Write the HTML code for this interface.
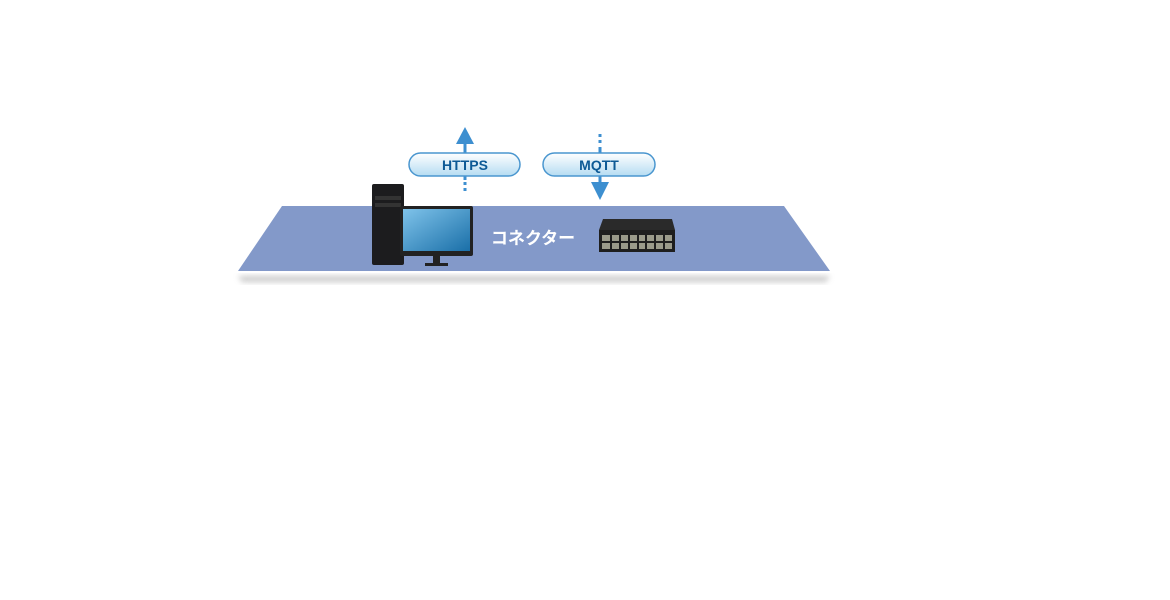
<!DOCTYPE html>
<html><head><meta charset="utf-8"><style>
html,body{margin:0;padding:0;background:#fff;width:1170px;height:600px;overflow:hidden;font-family:"Liberation Sans","Noto Sans CJK JP",sans-serif}
</style></head><body>
<svg width="1170" height="600" viewBox="0 0 1170 600" xmlns="http://www.w3.org/2000/svg">
<defs>
<linearGradient id="pill" x1="0" y1="0" x2="0" y2="1"><stop offset="0" stop-color="#ffffff"/><stop offset="1" stop-color="#b5dcf2"/></linearGradient>
<linearGradient id="scr" x1="0" y1="0" x2="1" y2="1"><stop offset="0" stop-color="#7fc3ea"/><stop offset="1" stop-color="#1a6fa8"/></linearGradient>
<filter id="sh" x="-10%" y="-50%" width="120%" height="200%"><feGaussianBlur stdDeviation="3"/></filter>
</defs>
<polygon points="238,276 830,276 826,282 242,282" fill="#999" opacity="0.5" filter="url(#sh)"/>
<polygon points="282,206 784,206 830,271 238,271" fill="#8399c9"/>
<line x1="465" y1="143" x2="465" y2="180" stroke="#3d8fd0" stroke-width="3"/>
<polygon points="456,144 465,127 474,144" fill="#3d8fd0"/>
<line x1="465" y1="182" x2="465" y2="194" stroke="#3d8fd0" stroke-width="3" stroke-dasharray="3,3"/>
<line x1="600" y1="134" x2="600" y2="145" stroke="#3d8fd0" stroke-width="3" stroke-dasharray="3,3"/>
<line x1="600" y1="147" x2="600" y2="184" stroke="#3d8fd0" stroke-width="3"/>
<polygon points="591,182 600,200 609,182" fill="#3d8fd0"/>
<rect x="409" y="153" width="111" height="23" rx="11.5" fill="url(#pill)" stroke="#4a96cf" stroke-width="1.5"/>
<text x="465" y="170" text-anchor="middle" font-size="14" font-weight="bold" fill="#0d5a96">HTTPS</text>
<rect x="543" y="153" width="112" height="23" rx="11.5" fill="url(#pill)" stroke="#4a96cf" stroke-width="1.5"/>
<text x="599" y="170" text-anchor="middle" font-size="14" font-weight="bold" fill="#0d5a96">MQTT</text>
<rect x="372" y="184" width="32" height="81" rx="2" fill="#1c1c1e"/>
<rect x="375" y="196" width="26" height="4" fill="#333"/>
<rect x="375" y="203" width="26" height="4" fill="#333"/>
<rect x="400" y="206" width="73" height="50" rx="2" fill="#222"/>
<rect x="403" y="209" width="67" height="42" fill="url(#scr)"/>
<rect x="433" y="256" width="7" height="8" fill="#222"/>
<rect x="425" y="263" width="23" height="3" fill="#222"/>
<text x="533" y="244" text-anchor="middle" font-size="17" font-weight="bold" fill="#fff">コネクター</text>
<polygon points="603,219 672,219 675,230 599,230" fill="#2a2a2a"/>
<rect x="599" y="230" width="76" height="22" fill="#1e1e1e"/>
<g fill="#9a9a8a">
<rect x="602" y="235" width="70" height="6"/>
<rect x="602" y="243" width="70" height="6"/>
</g>
<g stroke="#1e1e1e" stroke-width="2">
<line x1="611" y1="234" x2="611" y2="250"/><line x1="620" y1="234" x2="620" y2="250"/><line x1="629" y1="234" x2="629" y2="250"/><line x1="638" y1="234" x2="638" y2="250"/><line x1="646" y1="234" x2="646" y2="250"/><line x1="655" y1="234" x2="655" y2="250"/><line x1="664" y1="234" x2="664" y2="250"/>
</g>
</svg>
</body></html>
